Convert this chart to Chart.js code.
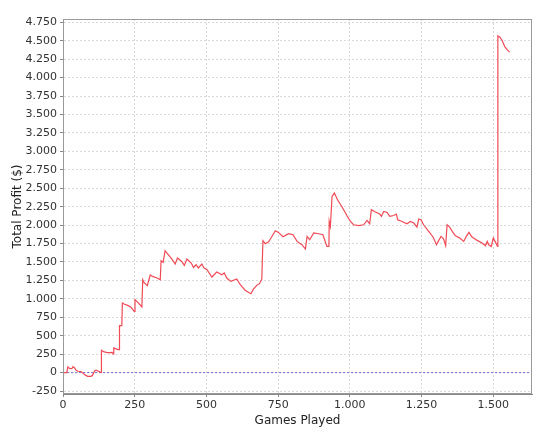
<!DOCTYPE html>
<html>
<head>
<meta charset="utf-8">
<script src="https://cdn.jsdelivr.net/npm/chart.js@4.4.1/dist/chart.umd.min.js"></script>
<style>
  html, body { margin: 0; padding: 0; background: #fff; }
  #wrap { width: 557px; height: 441px; position: relative; }
</style>
</head>
<body>
<div id="wrap"><canvas id="chart"></canvas></div>
<script>
// games played (x) and running total profit (y)
var games = [
  0, 13, 17, 23, 31, 35, 40, 45, 52, 63, 68, 77, 86, 98, 103, 110, 115, 124, 131, 133,
  134, 141, 154, 164, 171, 175, 177, 183, 192, 196, 197, 205, 207, 213, 227, 237, 248, 251, 262, 275,
  278, 283, 294, 304, 314, 328, 339, 342, 349, 356, 362, 379, 391, 399, 414, 423, 432, 447, 455, 464,
  472, 484, 492, 502, 519, 536, 554, 562, 571, 585, 606, 618, 635, 655, 664, 676, 685, 693, 697, 705,
  716, 725, 740, 751, 767, 786, 802, 816, 833, 845, 851, 860, 874, 891, 906, 920, 927, 928, 932, 938,
  946, 957, 973, 990, 1002, 1013, 1031, 1048, 1060, 1069, 1075, 1089, 1104, 1110, 1118, 1130, 1139, 1153, 1162, 1167,
  1182, 1199, 1211, 1223, 1234, 1240, 1248, 1257, 1275, 1290, 1302, 1310, 1318, 1327, 1334, 1339, 1348, 1357, 1368, 1383,
  1397, 1406, 1415, 1426, 1444, 1461, 1473, 1479, 1484, 1493, 1500, 1508, 1515, 1516, 1523, 1531, 1540, 1549, 1557
];
var profit = [
  0, 0, 77, 57, 54, 81, 68, 34, 18, 14, -4, -31, -50, -50, -37, 23, 34, 18, 4, 4,
  302, 285, 271, 271, 275, 253, 335, 325, 312, 312, 637, 637, 944, 931, 908, 887, 831, 989, 949, 890,
  1260, 1220, 1179, 1324, 1301, 1283, 1260, 1518, 1495, 1653, 1622, 1541, 1473, 1554, 1508, 1454, 1541, 1486, 1427, 1463,
  1419, 1473, 1419, 1396, 1297, 1364, 1328, 1351, 1283, 1237, 1270, 1192, 1118, 1070, 1131, 1186, 1206, 1267, 1789, 1748,
  1771, 1825, 1924, 1901, 1843, 1883, 1870, 1779, 1734, 1676, 1847, 1802, 1893, 1883, 1870, 1711, 1711, 2050, 1982, 2389,
  2435, 2344, 2245, 2127, 2050, 2005, 1992, 2005, 2064, 2019, 2209, 2177, 2150, 2118, 2186, 2172, 2118, 2131, 2150, 2073,
  2050, 2019, 2050, 2028, 1974, 2083, 2073, 2005, 1915, 1839, 1734, 1793, 1847, 1812, 1721, 2005, 1974, 1915, 1856, 1825,
  1779, 1847, 1901, 1839, 1793, 1757, 1721, 1779, 1734, 1711, 1825, 1766, 1711, 4566, 4549, 4503, 4421, 4376, 4345
];
var xTicks = [0, 250, 500, 750, 1000, 1250, 1500];
var yTicks = [-250, 0, 250, 500, 750, 1000, 1250, 1500, 1750, 2000, 2250, 2500, 2750, 3000, 3250, 3500, 3750, 4000, 4250, 4500, 4750];

var X_MIN = 0, X_MAX = 1635;
var Y_MIN = -290, Y_MAX = 4795;

function fmt(v) {
  // dot as thousands separator, like the original
  var s = String(Math.abs(v));
  s = s.replace(/\B(?=(\d{3})+(?!\d))/g, '.');
  return (v < 0 ? '-' : '') + s;
}

var points = games.map(function(g, i) { return { x: g, y: profit[i] }; });

var outline = {
  id: 'outline',
  afterDraw: function(chart) {
    var a = chart.chartArea, c = chart.ctx;
    c.save();
    c.strokeStyle = '#999';
    c.lineWidth = 1;
    c.strokeRect(Math.round(a.left) + 0.5, Math.round(a.top) + 0.5,
      Math.round(a.right - a.left) - 1, Math.round(a.bottom - a.top) - 1);
    c.restore();
  }
};

function keepTicks(list) {
  return function(scale) {
    scale.ticks = list.map(function(v) { return { value: v }; });
  };
}

var font = 'DejaVu Sans';

new Chart(document.getElementById('chart').getContext('2d'), {
  type: 'line',
  data: {
    datasets: [{
      data: points,
      borderColor: '#f04a55',
      borderWidth: 1.2,
      pointRadius: 0,
      tension: 0,
      fill: false,
      order: 1
    }, {
      data: [{ x: X_MIN, y: 0 }, { x: X_MAX, y: 0 }],
      borderColor: '#7a6fd0',
      borderWidth: 1,
      borderDash: [2, 2],
      pointRadius: 0,
      fill: false,
      order: 2
    }]
  },
  options: {
    responsive: true,
    maintainAspectRatio: false,
    animation: false,
    events: [],
    layout: { padding: { left: 0, top: 19, right: 25, bottom: 0 } },
    plugins: { legend: { display: false }, tooltip: { enabled: false } },
    scales: {
      x: {
        type: 'linear',
        min: X_MIN, max: X_MAX,
        afterBuildTicks: keepTicks(xTicks),
        afterFit: function(s) { s.height = 47; },
        grid: { color: '#d8d8d8', tickLength: 3, tickColor: '#888', tickBorderDash: [] },
        border: { display: true, color: '#888', dash: [2, 2] },
        ticks: { color: '#333', font: { family: font, size: 11 }, padding: 2, maxRotation: 0,
          callback: function(v) { return fmt(v); } },
        title: { display: true, text: 'Games Played', color: '#222',
          font: { family: font, size: 12 }, padding: { top: 13, bottom: 13 } }
      },
      y: {
        type: 'linear',
        min: Y_MIN, max: Y_MAX,
        afterBuildTicks: keepTicks(yTicks),
        afterFit: function(s) { s.width = 63; },
        grid: { color: '#d8d8d8', tickLength: 3, tickColor: '#888', tickBorderDash: [] },
        border: { display: true, color: '#888', dash: [2, 2] },
        ticks: { color: '#333', font: { family: font, size: 11 }, padding: 3,
          callback: function(v) { return fmt(v); } },
        title: { display: true, text: 'Total Profit ($)', color: '#222',
          font: { family: font, size: 12 }, padding: { top: 11, bottom: 11 } }
      }
    }
  },
  plugins: [outline]
});
</script>
</body>
</html>
